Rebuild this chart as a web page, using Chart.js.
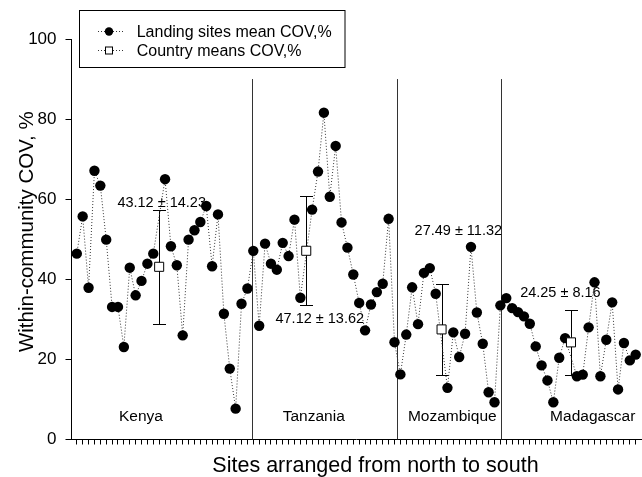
<!DOCTYPE html>
<html><head><meta charset="utf-8">
<script src="https://cdn.jsdelivr.net/npm/chart.js@4.4.1/dist/chart.umd.min.js"></script>
<style>html,body{margin:0;padding:0;background:#fff;}#wrap{width:642px;height:477px;position:relative;}</style>
</head><body><div id="wrap"><canvas id="c" width="642" height="477"></canvas></div>
<script>
// ---------------- DATA ----------------
const countries = ['Kenya', 'Tanzania', 'Mozambique', 'Madagascar'];
// Landing-site COV (%) arranged from north to south; null marks the slot where the country mean is plotted
const kenyaSites = [46.4, 55.7, 37.9, 67.1, 63.4, 49.9, 33.1, 33.1, 23.1, 42.9, 36.0, 39.6, 43.9, 46.4, null,
  65.0, 48.25, 43.5, 26.0, 49.9, 52.25, 54.3, 58.3, 43.25, 56.2, 31.4, 17.7, 7.7, 33.9, 37.7];
const tanzaniaSites = [47.1, 28.4, 48.9, 43.9, 42.4, 49.1, 45.8, 54.9, 35.4, null,
  57.4, 66.9, 81.6, 60.6, 73.3, 54.2, 47.9, 41.2, 34.1, 27.25, 33.7, 36.8, 38.9, 55.1, 24.3];
const mozambiqueSites = [16.25, 26.2, 38.0, 28.8, 41.6, 42.8, 36.4, null,
  12.9, 26.75, 20.6, 26.4, 48.1, 31.7, 23.9, 11.8, 9.3];
const madagascarSites = [33.5, 35.3, 32.8, 31.8, 30.75, 28.9, 23.25, 18.5, 14.75, 9.3, 20.4, 25.3, null,
  15.8, 16.2, 28.0, 39.25, 15.8, 24.9, 34.25, 12.5, 24.1, 19.75, 21.2];
const countryMeans = [43.12, 47.12, 27.49, 24.25];
const countrySD = [14.23, 13.62, 11.32, 8.16];
const yTicks = [0, 20, 40, 60, 80, 100];

// ---------------- LAYOUT (annotation positions, in axis units) ----------------
const dividerSlots = [29.85, 54.4, 72.05];
const dividerTop = 90;
const countryLabelPos = [[10.9, 4.6], [40.28, 4.6], [63.82, 4.6], [87.7, 4.6]];
const meanLabelPos = [[14.43, 58.1], [41.3, 29.1], [64.85, 51.06], [82.2, 35.6]];

// ---------------- BUILD ----------------
const siteLists = [kenyaSites, tanzaniaSites, mozambiqueSites, madagascarSites];
const sitePoints = [];
const meanPoints = [];
let slot = 0;
siteLists.forEach((list, ci) => {
  list.forEach(v => {
    if (v === null) meanPoints.push({x: slot, y: countryMeans[ci], sd: countrySD[ci]});
    else sitePoints.push({x: slot, y: v});
    slot++;
  });
});
const nSlots = slot;
const tickSlots = Array.from({length: nSlots}, (_, i) => i);

const FONT = "'Liberation Sans', Arial, Helvetica, sans-serif";

const annot = {
  id: 'annot',
  beforeDatasetsDraw(chart) {
    const {ctx, scales: {x, y}} = chart;
    ctx.save();
    ctx.strokeStyle = '#333';
    ctx.lineWidth = 1;
    dividerSlots.forEach(s => {
      const px = Math.round(x.getPixelForValue(s)) + 0.5;
      ctx.beginPath();
      ctx.moveTo(px, y.getPixelForValue(0));
      ctx.lineTo(px, y.getPixelForValue(dividerTop));
      ctx.stroke();
    });
    // error bars
    ctx.strokeStyle = '#000';
    meanPoints.forEach(p => {
      const px = Math.round(x.getPixelForValue(p.x)) + 0.5;
      const yt = Math.round(y.getPixelForValue(p.y + p.sd)) + 0.5;
      const yb = Math.round(y.getPixelForValue(p.y - p.sd)) + 0.5;
      ctx.beginPath();
      ctx.moveTo(px, yt); ctx.lineTo(px, yb);
      ctx.moveTo(px - 6.5, yt); ctx.lineTo(px + 6.5, yt);
      ctx.moveTo(px - 6.5, yb); ctx.lineTo(px + 6.5, yb);
      ctx.stroke();
    });
    // labels
    ctx.fillStyle = '#000';
    ctx.textAlign = 'center';
    ctx.textBaseline = 'alphabetic';
    ctx.font = '14.5px ' + FONT;
    meanPoints.forEach((p, i) => {
      const [sx, sy] = meanLabelPos[i];
      ctx.fillText(countryMeans[i].toFixed(2) + ' \u00b1 ' + countrySD[i].toFixed(2),
        x.getPixelForValue(sx), y.getPixelForValue(sy));
    });
    ctx.font = '15.5px ' + FONT;
    countries.forEach((c, i) => {
      const [sx, sy] = countryLabelPos[i];
      ctx.fillText(c, x.getPixelForValue(sx), y.getPixelForValue(sy));
    });
    ctx.restore();
  },
  afterDraw(chart) {
    const {ctx} = chart;
    ctx.save();
    // axis titles
    ctx.fillStyle = '#000';
    ctx.textAlign = 'center';
    ctx.textBaseline = 'alphabetic';
    ctx.font = '21.5px ' + FONT;
    ctx.fillText('Sites arranged from north to south', 375.5, 471.7);
    ctx.save();
    ctx.translate(33, 231.7);
    ctx.rotate(-Math.PI / 2);
    ctx.font = '20.5px ' + FONT;
    ctx.fillText('Within-community COV, %', 0, 0);
    ctx.restore();
    // legend
    ctx.fillStyle = '#fff';
    ctx.fillRect(79.5, 10.5, 265.5, 57);
    ctx.strokeStyle = '#000';
    ctx.lineWidth = 1;
    ctx.strokeRect(79.5, 10.5, 265.5, 57);
    const rows = [{y: 31.5, label: 'Landing sites mean COV,%', m: 'circle'},
                  {y: 50.5, label: 'Country means COV,%', m: 'square'}];
    rows.forEach(r => {
      ctx.save();
      ctx.setLineDash([1, 2]);
      ctx.strokeStyle = '#333';
      ctx.beginPath();
      ctx.moveTo(98, r.y); ctx.lineTo(123, r.y);
      ctx.stroke();
      ctx.restore();
      if (r.m === 'circle') {
        ctx.fillStyle = '#000';
        ctx.beginPath(); ctx.arc(109, r.y, 4.2, 0, Math.PI * 2); ctx.fill();
      } else {
        ctx.fillStyle = '#fff';
        ctx.fillRect(105.5, r.y - 3.5, 7, 7);
        ctx.strokeStyle = '#000';
        ctx.strokeRect(105.5, r.y - 3.5, 7, 7);
      }
      ctx.fillStyle = '#000';
      ctx.textAlign = 'left';
      ctx.textBaseline = 'alphabetic';
      ctx.font = '16px ' + FONT;
      ctx.fillText(r.label, 136.7, r.y + 5.3);
    });
    ctx.restore();
  }
};

new Chart(document.getElementById('c'), {
  type: 'line',
  data: {
    datasets: [
      {
        label: 'Country means COV,%',
        data: meanPoints,
        showLine: false,
        pointStyle: 'rect',
        pointRadius: 6.4,
        pointBackgroundColor: '#fff',
        pointBorderColor: '#000',
        pointBorderWidth: 1
      },
      {
        label: 'Landing sites mean COV,%',
        data: sitePoints,
        borderColor: '#333',
        borderWidth: 1,
        borderDash: [1, 2],
        tension: 0,
        pointRadius: 5.2,
        pointBackgroundColor: '#000',
        pointBorderColor: '#000',
        pointBorderWidth: 0,
        spanGaps: true
      }
    ]
  },
  options: {
    responsive: false,
    devicePixelRatio: 1,
    animation: false,
    events: [],
    layout: {autoPadding: false, padding: {top: 39, right: 1, bottom: 0, left: 0}},
    plugins: {legend: {display: false}, tooltip: {enabled: false}},
    scales: {
      x: {
        type: 'linear',
        min: -0.9,
        max: nSlots - 0.1,
        afterBuildTicks: s => { s.ticks = tickSlots.map(v => ({value: v})); },
        afterFit: s => { s.height = 37.5; },
        ticks: {display: false},
        grid: {drawOnChartArea: false, drawTicks: true, tickLength: 5, color: '#000', lineWidth: 1},
        border: {display: true, color: '#000', width: 1}
      },
      y: {
        min: 0,
        max: 100,
        afterBuildTicks: s => { s.ticks = yTicks.map(v => ({value: v})); },
        afterFit: s => { s.width = 71.5; },
        ticks: {color: '#000', padding: 9, font: {family: FONT, size: 17}},
        grid: {drawOnChartArea: false, drawTicks: true, tickLength: 6, color: '#000', lineWidth: 1},
        border: {display: true, color: '#000', width: 1}
      }
    }
  },
  plugins: [annot]
});
</script>
</body></html>
